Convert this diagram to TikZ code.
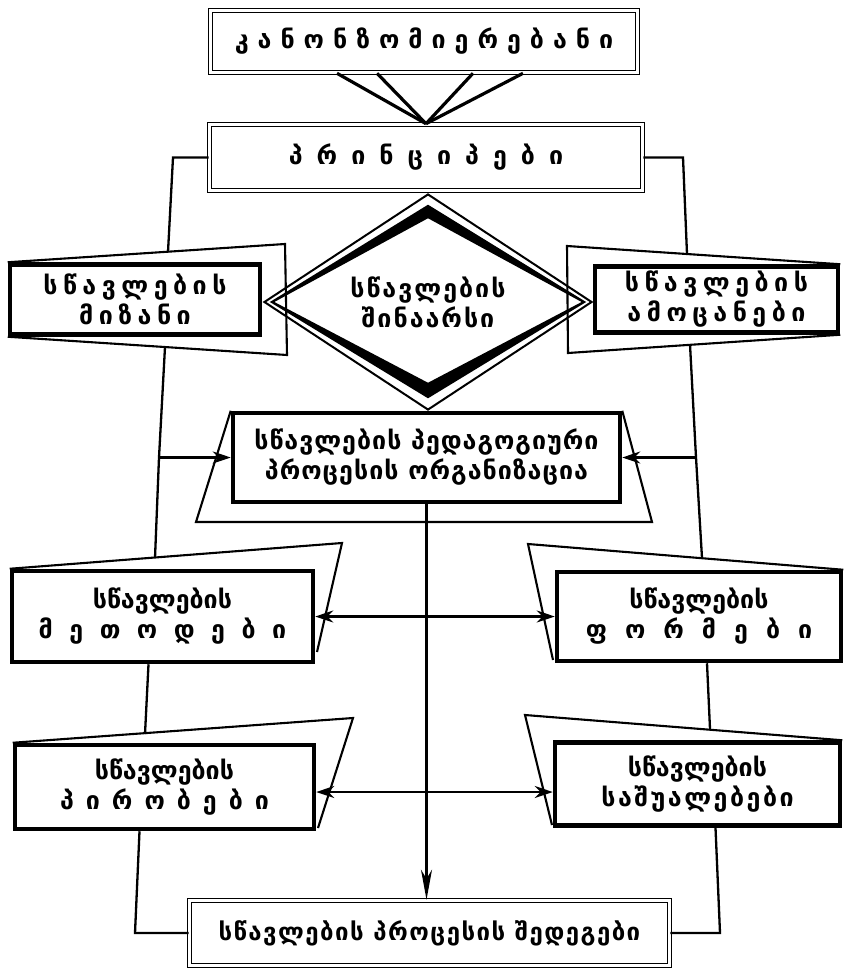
\documentclass[tikz,border=0pt]{standalone}
\usepackage{fontspec}
\setmainfont{DejaVu Sans}
\usetikzlibrary{arrows.meta,shapes.geometric}
\newcommand{\track}[2]{{\addfontfeatures{LetterSpace=#1}#2}}
\tikzset{
  frame/.style={draw, line width=4.5pt, fill=white, inner sep=0pt, align=center},
  dframe/.style={draw, line width=1.6pt, double, double distance=2.4pt, fill=white, inner sep=0pt, align=center},
  flap/.style={line width=2.1pt},
  wire/.style={line width=2.3pt},
  funnel/.style={line width=3.2pt},
}
\begin{document}
\begin{tikzpicture}[x=1pt, y=-1pt, >={Stealth[length=18pt,width=12pt,inset=6pt]},
  font=\bfseries\fontsize{25}{30}\selectfont]
\useasboundingbox (0,0) rectangle (847,971);

% top
\node[dframe, minimum width=427pt, minimum height=62pt] (laws) at (424,41.5) {\track{36}{კანონზომიერებანი}};
\node[dframe, minimum width=433pt, minimum height=66pt] (prin) at (426,157.5) {\track{56}{პრინციპები}};
\draw[funnel] ([xshift=-87pt]laws.south) -- (prin.north);
\draw[funnel] ([xshift=-47pt]laws.south) -- (prin.north);
\draw[funnel] ([xshift=49pt]laws.south) -- (prin.north);
\draw[funnel] ([xshift=99pt]laws.south) -- (prin.north);

% content
\node[draw, diamond, aspect=1.5, line width=2pt, minimum width=328pt, minimum height=216pt, inner sep=0pt, align=center] (content) at (428,302) {\track{8}{სწავლების}\\\track{8}{შინაარსი}};
\draw[line width=2.2pt, fill, even odd rule]
  ([xshift=9pt]content.west) -- ([yshift=-13pt]content.north) -- ([xshift=-9pt]content.east) -- ([yshift=14pt]content.south) -- cycle
  ([xshift=9pt]content.west) -- ([yshift=-24pt]content.north) -- ([xshift=-9pt]content.east) -- ([yshift=27pt]content.south) -- cycle;

\node[frame, minimum width=250pt, minimum height=70pt] (goal) at (135,299.5) {\track{22}{სწავლების}\\\track{22}{მიზანი}};
\draw[flap] (goal.north west) -- (285,244) -- (287,355) -- (goal.south west);
\node[frame, minimum width=243pt, minimum height=66pt] (tasks) at (716.5,299.5) {\track{22}{სწავლების}\\\track{22}{ამოცანები}};
\draw[flap] (tasks.north east) -- (567,246) -- (568,353) -- (tasks.south east);

% middle
\node[frame, minimum width=387pt, minimum height=89pt] (org) at (426.5,457.5) {\track{4}{სწავლების პედაგოგიური}\\\track{4}{პროცესის ორგანიზაცია}};
\draw[flap] (org.north west) -- (196,522) -- (652,522) -- (org.north east);

\node[frame, minimum width=301pt, minimum height=91pt] (methods) at (162.5,616.5) {სწავლების\\\track{66}{მეთოდები}};
\draw[flap] (methods.north west) -- (342,543) -- (317,652);
\node[frame, minimum width=284pt, minimum height=89pt] (forms) at (699,616.5) {სწავლების\\\track{72}{ფორმები}};
\draw[flap] (forms.north east) -- (528,544) -- (553,660);

\node[frame, minimum width=299pt, minimum height=84pt] (cond) at (164.5,787) {სწავლების\\\track{48}{პირობები}};
\draw[flap] (cond.north west) -- (353,718) -- (318,828);
\node[frame, minimum width=285pt, minimum height=83pt] (means) at (697.5,784) {სწავლების\\\track{10}{საშუალებები}};
\draw[flap] (means.north east) -- (525,715) -- (552,825);

% bottom
\node[dframe, minimum width=480pt, minimum height=65pt, font=\bfseries\fontsize{24}{28}\selectfont] (result) at (429.5,933) {\track{6}{სწავლების პროცესის შედეგები}};

% left side
\coordinate (l1) at (173,157.5);
\coordinate (l2) at (168,252);
\coordinate (l3) at (165,347);
\coordinate (l5) at (159,457.5);
\coordinate (l4) at (155,558);
\coordinate (l6) at (145,734);
\coordinate (l7) at (135,933);
\draw[wire] (prin.west) -- (l1) -- (l2);
\draw[wire] (l3) -- (l5) -- (l4);
\draw[wire,->] (l5) -- (org.west);
\draw[wire] ([xshift=-14pt]methods.south) -- (l6);
\draw[wire] ([xshift=-25pt]cond.south) -- (l7) -- (result.west);

% right side
\coordinate (r1) at (683,157.5);
\coordinate (r2) at (687,254);
\coordinate (r3) at (690,344.5);
\coordinate (r5) at (696,457.5);
\coordinate (r4) at (702,558);
\coordinate (r6) at (710,729);
\coordinate (r7) at (720,933);
\draw[wire] (prin.east) -- (r1) -- (r2);
\draw[wire] (r3) -- (r5) -- (r4);
\draw[wire,->] (r5) -- (org.east);
\draw[wire] ([xshift=8pt]forms.south) -- (r6);
\draw[wire] ([xshift=18pt]means.south) -- (r7) -- (result.east);

% centre
\coordinate (ca) at ([yshift=-5pt]cond.east);
\draw[wire,-{Stealth[length=30pt,width=11pt,inset=9pt]}] (org.south) -- (org.south |- result.north);
\draw[wire,<->] (methods.east) -- (methods.east -| forms.west);
\draw[wire,<->] (ca) -- (means.west |- ca);
\end{tikzpicture}
\end{document}
